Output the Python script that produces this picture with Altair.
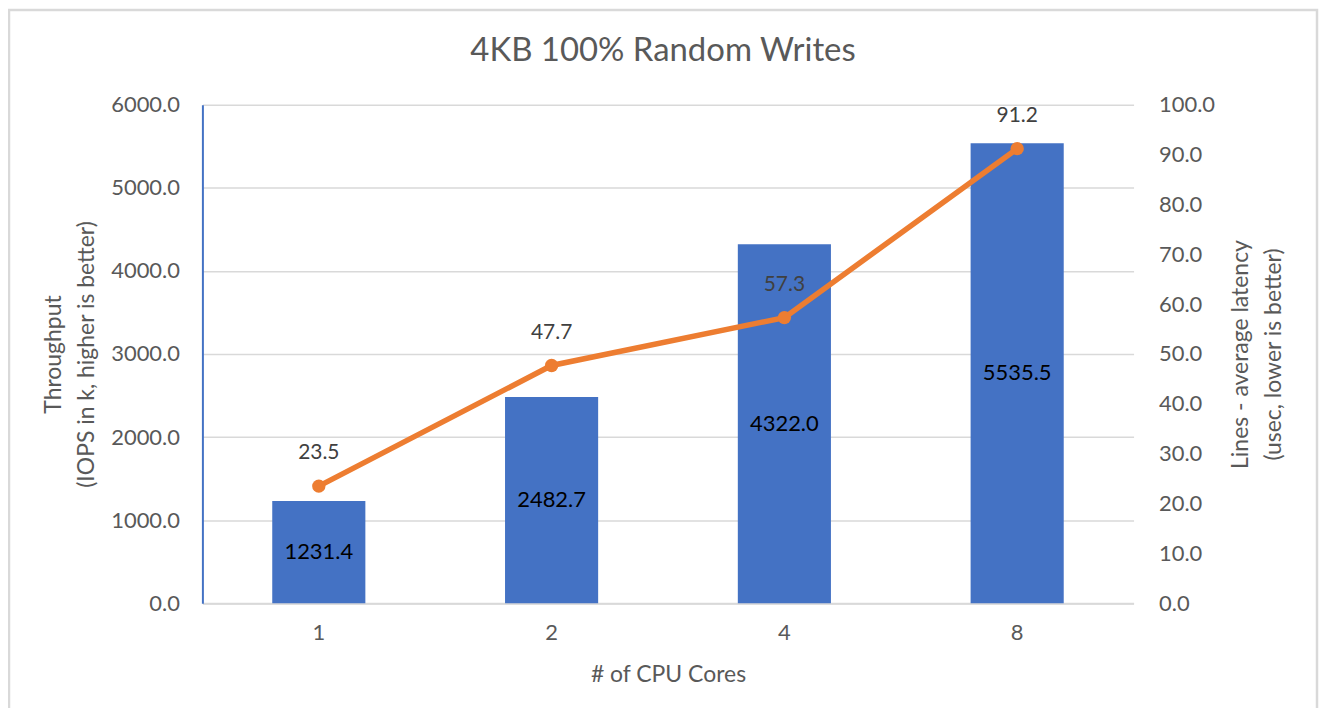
import altair as alt
import pandas as pd

cores = ["1", "2", "4", "8"]
throughput = [1231.4, 2482.7, 4322.0, 5535.5]
latency = [23.5, 47.7, 57.3, 91.2]
chart_title = ["4KB 100% Random Writes"]

df = pd.DataFrame({"cores": cores, "throughput": throughput, "latency": latency})
df["mid"] = df["throughput"] / 2
title_df = pd.DataFrame({"t": chart_title})

FONT = "Lato"
GRAY = "#595959"

x_enc = alt.X(
    "cores:N",
    sort=cores,
    scale=alt.Scale(paddingInner=0.6, paddingOuter=0.3),
    axis=alt.Axis(
        title="# of CPU Cores",
        labelAngle=0,
        labelFontSize=22,
        labelColor=GRAY,
        labelPadding=19,
        titleFontSize=23,
        titleColor=GRAY,
        titleFontWeight="normal",
        titlePadding=20,
        ticks=False,
        domainColor="#d9d9d9",
        domainWidth=2,
        grid=False,
    ),
)

left_axis = alt.Axis(
    title=["Throughput", "(IOPS in k, higher is better)"],
    values=[0, 1000, 2000, 3000, 4000, 5000, 6000],
    format=".1f",
    labelFontSize=22,
    labelColor=GRAY,
    labelPadding=23,
    ticks=False,
    domainColor="#4472C4",
    domainWidth=2,
    gridColor="#d9d9d9",
    gridWidth=1.5,
    titleFontSize=23,
    titleLineHeight=33,
    titleColor=GRAY,
    titleFontWeight="normal",
    titlePadding=12,
)

right_axis = alt.Axis(
    orient="right",
    title=["Lines - average latency", "(usec, lower is better)"],
    values=[0, 10, 20, 30, 40, 50, 60, 70, 80, 90, 100],
    format=".1f",
    labelFontSize=22,
    labelColor=GRAY,
    labelPadding=25,
    ticks=False,
    domain=False,
    grid=False,
    titleFontSize=23,
    titleLineHeight=33,
    titleAngle=-90,
    titleColor=GRAY,
    titleFontWeight="normal",
    titlePadding=5,
)

bars = alt.Chart(df).mark_bar(color="#4472C4").encode(
    x=x_enc,
    y=alt.Y("throughput:Q", scale=alt.Scale(domain=[0, 6000]), axis=left_axis),
)

bar_text = alt.Chart(df).mark_text(
    font=FONT, fontSize=22, color="#000000", baseline="middle"
).encode(
    x=alt.X("cores:N", sort=cores),
    y=alt.Y("mid:Q", scale=alt.Scale(domain=[0, 6000]), axis=left_axis),
    text=alt.Text("throughput:Q", format=".1f"),
)

border = alt.Chart(title_df).mark_rect(
    fillOpacity=0, stroke="#d9d9d9", strokeWidth=2.5, clip=False
).encode(
    x=alt.value(-194), x2=alt.value(1118), y=alt.value(-95), y2=alt.value(640)
)

title = alt.Chart(title_df).mark_text(
    font=FONT, fontSize=33, color=GRAY, align="center", baseline="middle"
).encode(
    x=alt.value(462), y=alt.value(-54), text="t:N"
)

left = alt.layer(bars, bar_text)

line = alt.Chart(df).mark_line(
    color="#ED7D31", strokeWidth=5.5,
    point=alt.OverlayMarkDef(color="#ED7D31", filled=True, size=180, opacity=1),
).encode(
    x=alt.X("cores:N", sort=cores),
    y=alt.Y("latency:Q", scale=alt.Scale(domain=[0, 100]), axis=right_axis),
)

line_text = alt.Chart(df).mark_text(
    font=FONT, fontSize=21, color="#404040", dy=-33, baseline="middle"
).encode(
    x=alt.X("cores:N", sort=cores),
    y=alt.Y("latency:Q", scale=alt.Scale(domain=[0, 100]), axis=right_axis),
    text=alt.Text("latency:Q", format=".1f"),
)

right = alt.layer(line, line_text)

chart = alt.layer(left, right, border, title).resolve_scale(y="independent").properties(
    width=934,
    height=500,
    padding={"left": 195, "top": 96, "right": 186, "bottom": 104},
    autosize=alt.AutoSizeParams(type="none"),
).configure(font=FONT).configure_view(stroke=None).configure_axis(
    labelFont=FONT, titleFont=FONT
)

chart.save("out.html", embed_options={"renderer": "svg", "actions": False})
